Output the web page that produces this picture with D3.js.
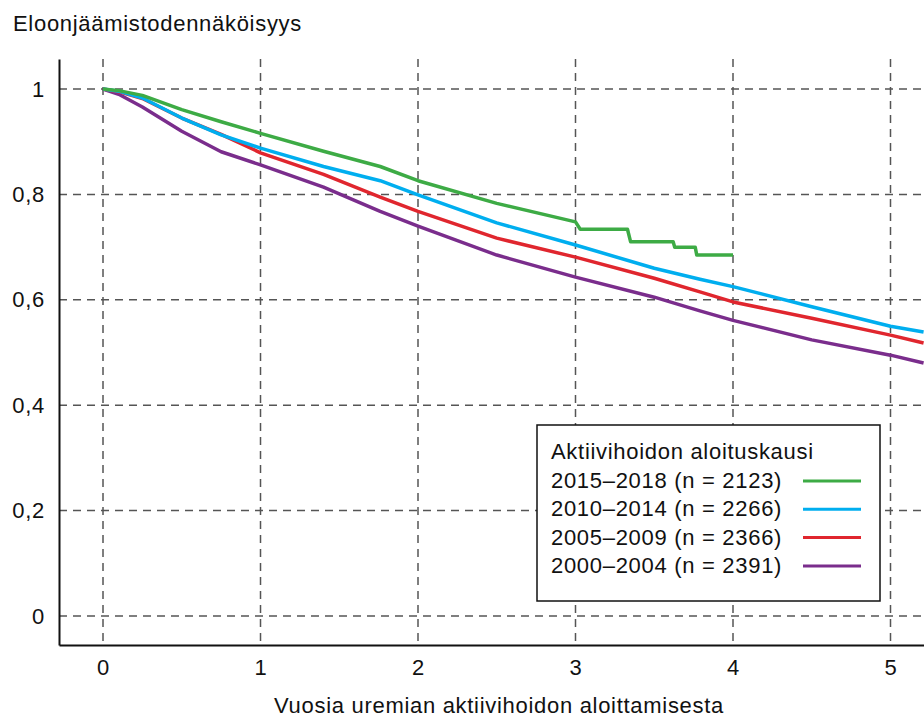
<!DOCTYPE html>
<html>
<head>
<meta charset="utf-8">
<script src="https://cdn.jsdelivr.net/npm/d3@7"></script>
<style>
  body { margin: 0; background: #fff; }
  svg text { font-family: "Liberation Sans", Arial, sans-serif; font-size: 22px; letter-spacing: 0.7px; fill: #111; }
</style>
</head>
<body>
<svg width="924" height="720"></svg>
<script>
// years since start of active uremia therapy
var years = [0, 0.1, 0.25, 0.5, 0.75, 1, 1.4, 1.76, 2, 2.5, 3, 3.5, 3.79, 4, 4.5, 5, 5.21];
var s2000_2004 = [1, 0.99, 0.966, 0.92, 0.881, 0.856, 0.814, 0.768, 0.740, 0.685, 0.643, 0.605, 0.579, 0.561, 0.524, 0.495, 0.480];
var s2005_2009 = [1, 0.995, 0.982, 0.945, 0.914, 0.879, 0.838, 0.795, 0.768, 0.717, 0.681, 0.641, 0.615, 0.596, 0.565, 0.533, 0.518];
var s2010_2014 = [1, 0.996, 0.983, 0.945, 0.913, 0.888, 0.853, 0.826, 0.799, 0.746, 0.704, 0.660, 0.639, 0.625, 0.587, 0.550, 0.539];

// newest cohort only followed up to 4 years, steps at the end
var years2015 = [0, 0.1, 0.25, 0.5, 0.75, 1, 1.4, 1.76, 2, 2.5, 3, 3.03, 3.33, 3.35, 3.62, 3.63, 3.76, 3.77, 4];
var s2015_2018 = [1, 0.997, 0.988, 0.961, 0.938, 0.916, 0.882, 0.853, 0.826, 0.783, 0.748, 0.734, 0.734, 0.710, 0.710, 0.700, 0.700, 0.685, 0.685];

var seriesNames = ["2015–2018 (n = 2123)", "2010–2014 (n = 2266)", "2005–2009 (n = 2366)", "2000–2004 (n = 2391)"];
var seriesColors = ["#3dab45", "#00aeef", "#e0262e", "#7a2d8c"];

var xTicks = [0, 1, 2, 3, 4, 5];
var yTicks = [0, 0.2, 0.4, 0.6, 0.8, 1];
var yTickLabels = ["0", "0,2", "0,4", "0,6", "0,8", "1"];

var series = [
  {name: seriesNames[0], color: seriesColors[0], values: years2015.map(function(t, i) { return {t: t, s: s2015_2018[i]}; })},
  {name: seriesNames[1], color: seriesColors[1], values: years.map(function(t, i) { return {t: t, s: s2010_2014[i]}; })},
  {name: seriesNames[2], color: seriesColors[2], values: years.map(function(t, i) { return {t: t, s: s2005_2009[i]}; })},
  {name: seriesNames[3], color: seriesColors[3], values: years.map(function(t, i) { return {t: t, s: s2000_2004[i]}; })}
];

var svg = d3.select("svg"),
    margin = {left: 59, right: 924, top: 59, bottom: 645};

var x = d3.scaleLinear().domain([-0.2794, 5.2127]).range([margin.left, margin.right]),
    y = d3.scaleLinear().domain([-0.055, 1.057]).range([margin.bottom, margin.top]);

// grid
var grid = svg.append("g")
    .style("stroke", "#555")
    .style("stroke-width", "1.5px")
    .style("stroke-dasharray", "8,6");

grid.selectAll(".vgrid")
  .data(xTicks)
  .enter().append("line")
    .attr("x1", function(d) { return x(d); })
    .attr("x2", function(d) { return x(d); })
    .attr("y1", margin.top)
    .attr("y2", margin.bottom);

grid.selectAll(".hgrid")
  .data(yTicks)
  .enter().append("line")
    .attr("x1", margin.left)
    .attr("x2", margin.right)
    .attr("y1", function(d) { return y(d); })
    .attr("y2", function(d) { return y(d); });

// axes
svg.append("g")
    .attr("transform", "translate(0," + margin.bottom + ")")
    .call(d3.axisBottom(x).tickValues(xTicks).tickSize(0).tickSizeOuter(0).tickPadding(14).tickFormat(d3.format("d")));

svg.append("g")
    .attr("transform", "translate(" + margin.left + ",0)")
    .call(d3.axisLeft(y).tickValues(yTicks).tickSize(0).tickSizeOuter(0).tickPadding(14)
      .tickFormat(function(d, i) { return yTickLabels[i]; }));

svg.selectAll(".domain").style("stroke", "#111").style("stroke-width", "2px");
svg.selectAll(".tick text")
    .style("font-family", "'Liberation Sans', Arial, sans-serif")
    .style("font-size", "22px")
    .style("fill", "#111");

// curves
var line = d3.line()
    .x(function(d) { return x(d.t); })
    .y(function(d) { return y(d.s); });

svg.append("g").selectAll("path")
  .data(series.slice().reverse())
  .enter().append("path")
    .attr("d", function(d) { return line(d.values); })
    .style("fill", "none")
    .style("stroke", function(d) { return d.color; })
    .style("stroke-width", "3.5px")
    .style("stroke-linejoin", "round");

// titles
svg.append("text")
    .attr("x", 13)
    .attr("y", 31)
    .text("Eloonjäämistodennäköisyys");

svg.append("text")
    .attr("x", 499)
    .attr("y", 713)
    .style("text-anchor", "middle")
    .text("Vuosia uremian aktiivihoidon aloittamisesta");

// legend
var legend = svg.append("g");
legend.append("rect")
    .attr("x", 537)
    .attr("y", 425)
    .attr("width", 343)
    .attr("height", 176)
    .style("fill", "#fff")
    .style("stroke", "#111")
    .style("stroke-width", "1.5px");

legend.append("text")
    .attr("x", 551)
    .attr("y", 459)
    .text("Aktiivihoidon aloituskausi");

var rows = legend.selectAll(".row")
  .data(series)
  .enter().append("g")
    .attr("transform", function(d, i) { return "translate(0," + (488 + i * 28.3) + ")"; });

rows.append("text")
    .attr("x", 551)
    .attr("y", 0)
    .text(function(d) { return d.name; });

rows.append("line")
    .attr("x1", 803)
    .attr("x2", 861)
    .attr("y1", -7)
    .attr("y2", -7)
    .style("stroke", function(d) { return d.color; })
    .style("stroke-width", "3px");
</script>
</body>
</html>
